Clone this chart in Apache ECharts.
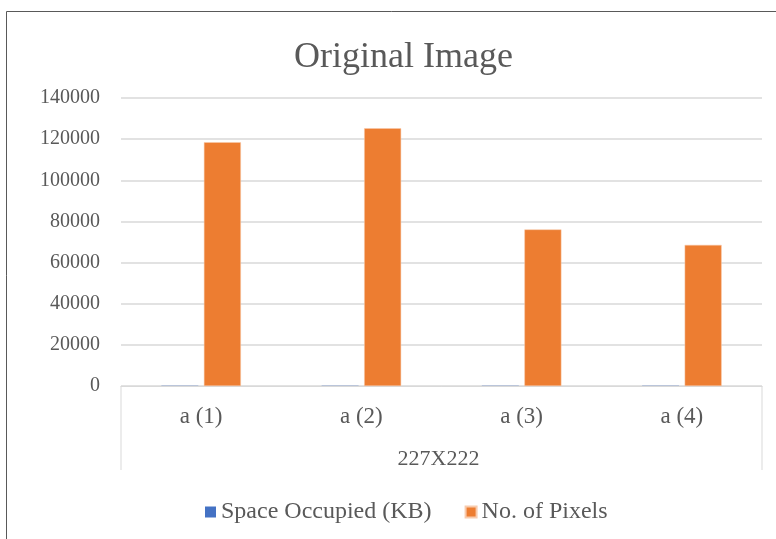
<!DOCTYPE html>
<html><head><meta charset="utf-8">
<script src="https://cdn.jsdelivr.net/npm/echarts@6/dist/echarts.min.js"></script>
<style>html,body{margin:0;padding:0;background:#fff}#c{width:776px;height:539px}</style>
</head><body><div id="c"></div>
<script>
const categories = ['a (1)', 'a (2)', 'a (3)', 'a (4)'];
const groupLabel = '227X222';
const spaceKB = [116, 122, 75, 67];
const pixels = [118500, 125300, 76100, 68600];
const yTicks = { min: 0, max: 140000, interval: 20000 };

const font = '"Liberation Serif","Times New Roman",serif';
const txt = '#595959';
const chart = echarts.init(document.getElementById('c'), null, { renderer: 'canvas' });
const option = {
  animation: false,
  title: { text: 'Original Image', left: 289, top: 35, textStyle: { fontFamily: font, fontSize: 36, fontWeight: 'normal', color: txt } },
  grid: { left: 121, right: 14, top: 98, bottom: 153, containLabel: false },
  legend: {
    top: 495, left: 200, icon: 'rect', itemWidth: 11, itemHeight: 11, itemGap: 33,
    textStyle: { fontFamily: font, fontSize: 24, color: txt, padding: [0, 0, 0, 0] },
    data: ['Space Occupied (KB)', 'No. of Pixels']
  },
  xAxis: {
    type: 'category', data: categories,
    axisLine: { show: true, lineStyle: { color: '#D9D9D9', width: 1 } },
    axisTick: { show: false },
    axisLabel: { fontFamily: font, fontSize: 23, color: txt, margin: 19 }
  },
  yAxis: {
    type: 'value', min: yTicks.min, max: yTicks.max, interval: yTicks.interval,
    axisLine: { show: false }, axisTick: { show: false },
    axisLabel: { fontFamily: font, fontSize: 20, color: txt, margin: 21, formatter: v => String(v) },
    splitLine: { lineStyle: { color: '#D9D9D9', width: 1.5 } }
  },
  series: [
    { name: 'Space Occupied (KB)', type: 'bar', data: spaceKB, barWidth: 37, barGap: '15%', itemStyle: { color: '#4472C4' } },
    { name: 'No. of Pixels', type: 'bar', data: pixels, barWidth: 37, barGap: '15%', itemStyle: { color: '#ED7D31', borderColor: '#F8CBAD', borderWidth: 0.5 } }
  ]
};
chart.setOption(option);

const p0 = chart.convertToPixel({ xAxisIndex: 0, yAxisIndex: 0 }, [0, 0]);
const rect = chart.getModel().getComponent('grid').coordinateSystem.getRect();
const xl = rect.x, xr = rect.x + rect.width, yb = p0[1];
chart.setOption({
  graphic: [
    { type: 'rect', shape: { x: 6.5, y: 11.5, width: 780, height: 540 }, style: { fill: 'none', stroke: '#595959', lineWidth: 1 }, silent: true },
    { type: 'line', shape: { x1: xl, y1: yb, x2: xl, y2: yb + 84 }, style: { stroke: '#D9D9D9', lineWidth: 1 } },
    { type: 'line', shape: { x1: xr, y1: yb, x2: xr, y2: yb + 84 }, style: { stroke: '#D9D9D9', lineWidth: 1 } },
    { type: 'text', x: (xl + xr) / 2 - 3, y: yb + 73, style: { text: groupLabel, fontFamily: font, fontSize: 22, fill: txt, align: 'center', verticalAlign: 'middle' } }
  ]
});
</script></body></html>
